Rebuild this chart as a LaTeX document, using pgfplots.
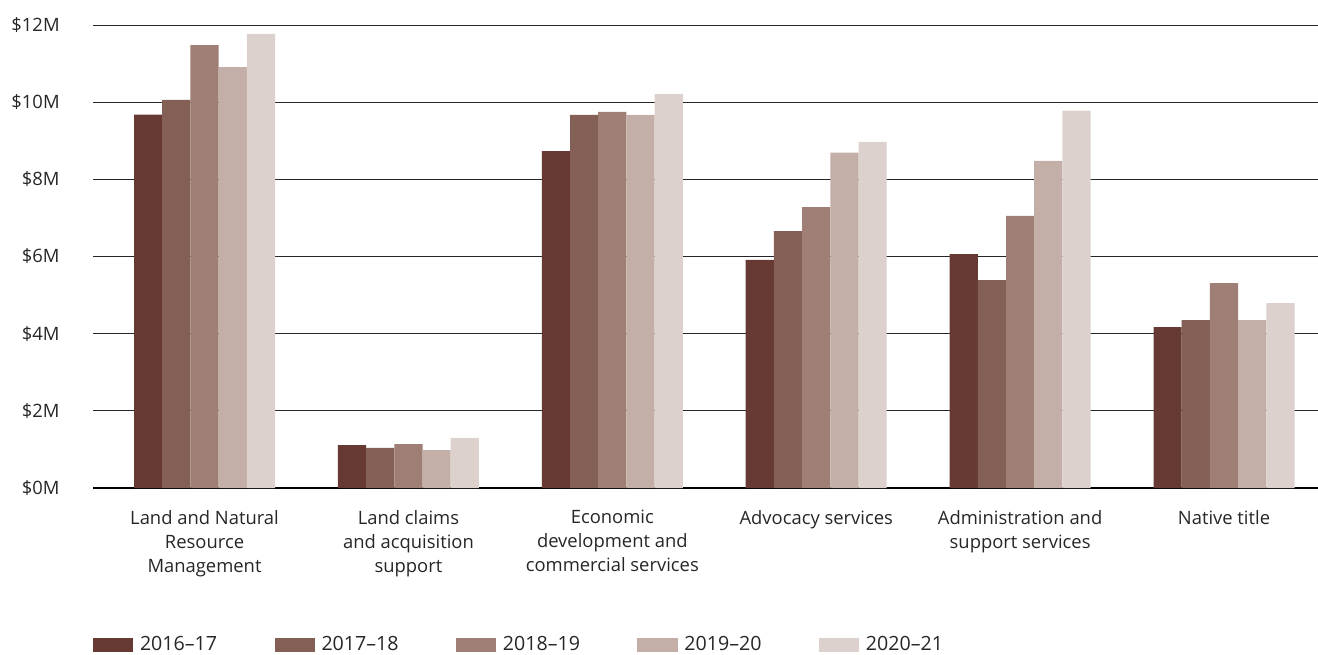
\documentclass[border=0pt]{standalone}
\usepackage{pgfplots}
\pgfplotsset{compat=1.18}
\usepackage{fontspec}
\setmainfont{Open Sans}
\definecolor{c1}{HTML}{663A33}
\definecolor{c2}{HTML}{835F55}
\definecolor{c3}{HTML}{9E7E75}
\definecolor{c4}{HTML}{C4AFA8}
\definecolor{c5}{HTML}{DCD1CD}
\begin{document}
\begin{tikzpicture}
\path[use as bounding box] (0,0) rectangle (659pt,327pt);
\begin{axis}[
  at={(46.5pt,83pt)}, anchor=south west,
  scale only axis, width=612.5pt, height=231.5pt,
  ybar=0pt, bar width=14.1pt,
  xmin=-0.547, xmax=5.461, ymin=0, ymax=12,
  ytick={0,2,4,6,8,10,12},
  yticklabels={\$0M,\$2M,\$4M,\$6M,\$8M,\$10M,\$12M},
  xtick={0,1,2,3,4,5},
  xticklabels={{Land and Natural\\Resource\\Management},{Land claims\\and acquisition\\support},{Economic\\development and\\commercial services},{Advocacy services},{Administration and\\support services},{Native title}},
  major tick length=0pt,
  axis x line*=bottom, axis y line*=left,
  y axis line style={draw=none},
  x axis line style={draw=black, line width=0.7pt},
  ymajorgrids, grid style={draw=black!85, line width=0.5pt},
  font=\fontsize{9.2}{12}\selectfont,
  yticklabel style={font=\fontsize{9.2}{12}\selectfont, inner sep=0pt, xshift=-16.5pt, text=black!85},
  xticklabel style={font=\fontsize{9.2}{12}\selectfont, align=center, anchor=north, inner sep=0pt, yshift=-11pt, text=black!85},
  legend columns=5,
  legend style={at={(0,-0.339)}, anchor=west, draw=none, fill=none, inner sep=0pt, outer sep=0pt,
    font=\fontsize{9.8}{12}\selectfont, text=black!85,
    nodes={inner sep=0pt, outer sep=0pt}},
  legend image code/.code={\fill[#1] (0pt,-3.5pt) rectangle (20pt,3.5pt);},
  legend cell align=left,
  every axis legend/.append style={
    /tikz/every odd column/.append style={column sep=3.5pt},
    /tikz/every even column/.append style={column sep=0pt},
    nodes={text width=67.25pt}},
]
\addplot[fill=c1, draw=none] coordinates {(0,9.68) (1,1.11) (2,8.73) (3,5.91) (4,6.06) (5,4.17)};
\addplot[fill=c2, draw=none] coordinates {(0,10.06) (1,1.04) (2,9.67) (3,6.66) (4,5.39) (5,4.35)};
\addplot[fill=c3, draw=none] coordinates {(0,11.48) (1,1.14) (2,9.75) (3,7.28) (4,7.05) (5,5.31)};
\addplot[fill=c4, draw=none] coordinates {(0,10.91) (1,0.98) (2,9.67) (3,8.69) (4,8.48) (5,4.35)};
\addplot[fill=c5, draw=none] coordinates {(0,11.77) (1,1.30) (2,10.21) (3,8.97) (4,9.78) (5,4.79)};
\legend{2016--17,2017--18,2018--19,2019--20,2020--21}
\end{axis}
\end{tikzpicture}
\end{document}
